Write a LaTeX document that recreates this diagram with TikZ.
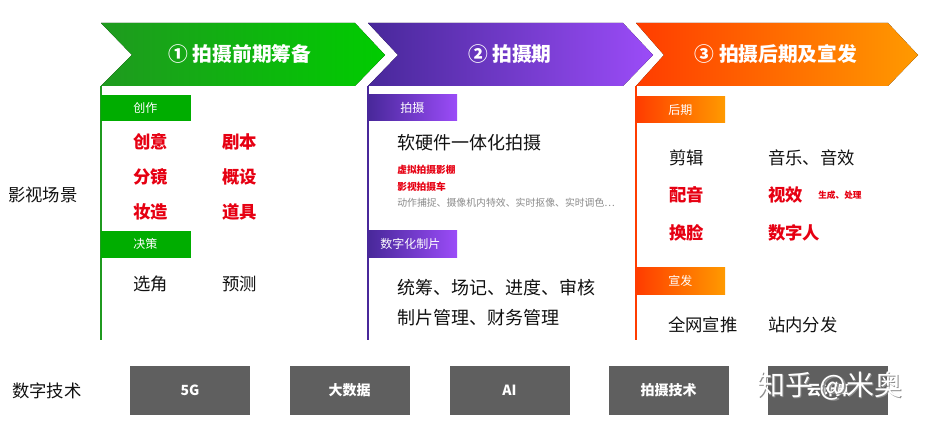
\documentclass[tikz,border=0pt]{standalone}
\usepackage{fontspec}
\setmainfont{Noto Sans CJK SC}
\definecolor{gA}{HTML}{1F9A1F}
\definecolor{gB}{HTML}{00CC00}
\definecolor{pA}{HTML}{48289A}
\definecolor{pB}{HTML}{9B4CF8}
\definecolor{oA}{HTML}{FF3C00}
\definecolor{oB}{HTML}{FF9A00}
\definecolor{myred}{HTML}{E60012}
\definecolor{txt}{HTML}{111111}
\definecolor{lgray}{HTML}{8A8A8A}
\definecolor{boxgray}{HTML}{5F5F5F}
\begin{document}
\begin{tikzpicture}[x=0.75pt,y=-0.75pt,
  title/.style={font=\bfseries\fontsize{14.8}{16}\selectfont, text=white, inner sep=0},
  tablabel/.style={font=\fontsize{9}{10}\selectfont, text=white, inner sep=0, anchor=west},
  big/.style={font=\fontsize{13}{15}\selectfont, text=txt, inner sep=0, anchor=west},
  redbig/.style={font=\bfseries\fontsize{13}{15}\selectfont, text=myred, inner sep=0, anchor=west},
  redsmall/.style={font=\bfseries\fontsize{7.3}{8}\selectfont, text=myred, inner sep=0, anchor=west},
  graysmall/.style={font=\fontsize{7.4}{8}\selectfont, text=lgray, inner sep=0, anchor=west},
  side/.style={font=\fontsize{13}{15}\selectfont, text=txt, inner sep=0, anchor=west},
  techbox/.style={fill=boxgray, minimum width=90pt, minimum height=36.75pt, inner sep=0,
    font=\bfseries\fontsize{10.5}{12}\selectfont, text=white},
  wmark/.style={font=\fontsize{21}{23}\selectfont, inner sep=0, anchor=west}]
\useasboundingbox (0,0) rectangle (926,427);
% chevrons
\fill[left color=gA, right color=gB] (101,23) -- (355,23) -- (385,55) -- (355,86) -- (101,86) -- (132,55) -- cycle;
\fill[left color=pA, right color=pB] (368,23) -- (623,23) -- (653,55) -- (623,86) -- (368,86) -- (398,55) -- cycle;
\fill[left color=oA, right color=oB] (636,23) -- (888,23) -- (918,55) -- (888,86) -- (636,86) -- (664,55) -- cycle;
\node[title] (t1) at (240,54) {① 拍摄前期筹备};
\node[title] (t2) at (510,54) {② 拍摄期};
\node[title] (t3) at (776,54) {③ 拍摄后期及宣发};
% column lines
\draw[gA, line width=0.9pt] (101,86) -- (101,340);
\draw[pA, line width=0.9pt] (368,86) -- (368,340);
\draw[oA, line width=0.9pt] (636,86) -- (636,340);
% tabs
\fill[gB!85!black] (101,95) rectangle (191,121);
\fill[gB!85!black] (101,231) rectangle (191,258);
\fill[left color=pA, right color=pB] (368,95) rectangle (457,121);
\fill[left color=pA, right color=pB] (368,231) rectangle (457,258);
\fill[left color=oA, right color=oB] (636,97) rectangle (725,123);
\fill[left color=oA, right color=oB] (636,268) rectangle (725,295);
\node[tablabel] (c1) at (133,108) {创作};
\node[tablabel] (c2) at (133,244) {决策};
\node[tablabel] (c3) at (400,108) {拍摄};
\node[tablabel] (c4) at (380,244) {数字化制片};
\node[tablabel] (c5) at (668,110) {后期};
\node[tablabel] (c6) at (668,281) {宣发};
% column 1
\node[redbig] (a1) at (133,142) {创意};
\node[redbig] (a2) at (222,142) {剧本};
\node[redbig] (a3) at (133,177) {分镜};
\node[redbig] (a4) at (222,177) {概设};
\node[redbig] (a5) at (133,212) {妆造};
\node[redbig] (a6) at (222,212) {道具};
\node[big] (a7) at (133,284) {选角};
\node[big] (a8) at (222,284) {预测};
% column 2
\node[big, font=\fontsize{13.5}{15}\selectfont] (b1) at (397,143) {软硬件一体化拍摄};
\node[redsmall] (b2) at (397,170) {虚拟拍摄影棚};
\node[redsmall] (b3) at (397,187) {影视拍摄车};
\node[graysmall] (b4) at (397,203) {动作捕捉、摄像机内特效、实时抠像、实时调色…};
\node[big, font=\fontsize{13.5}{15}\selectfont] (b5) at (397,288) {统筹、场记、进度、审核};
\node[big, font=\fontsize{13.5}{15}\selectfont] (b6) at (397,318) {制片管理、财务管理};
% column 3
\node[big] (d1) at (669,158) {剪辑};
\node[big] (d2) at (768,158) {音乐、音效};
\node[redbig] (d3) at (669,195) {配音};
\node[redbig] (d4) at (768,195) {视效};
\node[redsmall, font=\bfseries\fontsize{6.5}{7}\selectfont] (d5) at (818,195) {生成、处理};
\node[redbig] (d6) at (669,233) {换脸};
\node[redbig] (d7) at (768,233) {数字人};
\node[big] (d8) at (668,325) {全网宣推};
\node[big] (d9) at (768,325) {站内分发};
% side labels
\node[side] (s1) at (8,195) {影视场景};
\node[side] (s2) at (12,391) {数字技术};
% tech boxes
\node[techbox] (k1) at (190,390.5) {5G};
\node[techbox] (k2) at (349.5,390.5) {大数据};
\node[techbox] (k3) at (509.5,390.5) {AI};
\node[techbox] (k4) at (668.5,390.5) {拍摄技术};
\node[techbox] (k5) at (828,390.5) {云计算};
% watermark
\node[wmark, text=black!45] (w0) at (758.5,387.5) {知乎 @米奥};
\node[wmark, text=white] (w1) at (757,386) {知乎 @米奥};
\end{tikzpicture}
\end{document}
